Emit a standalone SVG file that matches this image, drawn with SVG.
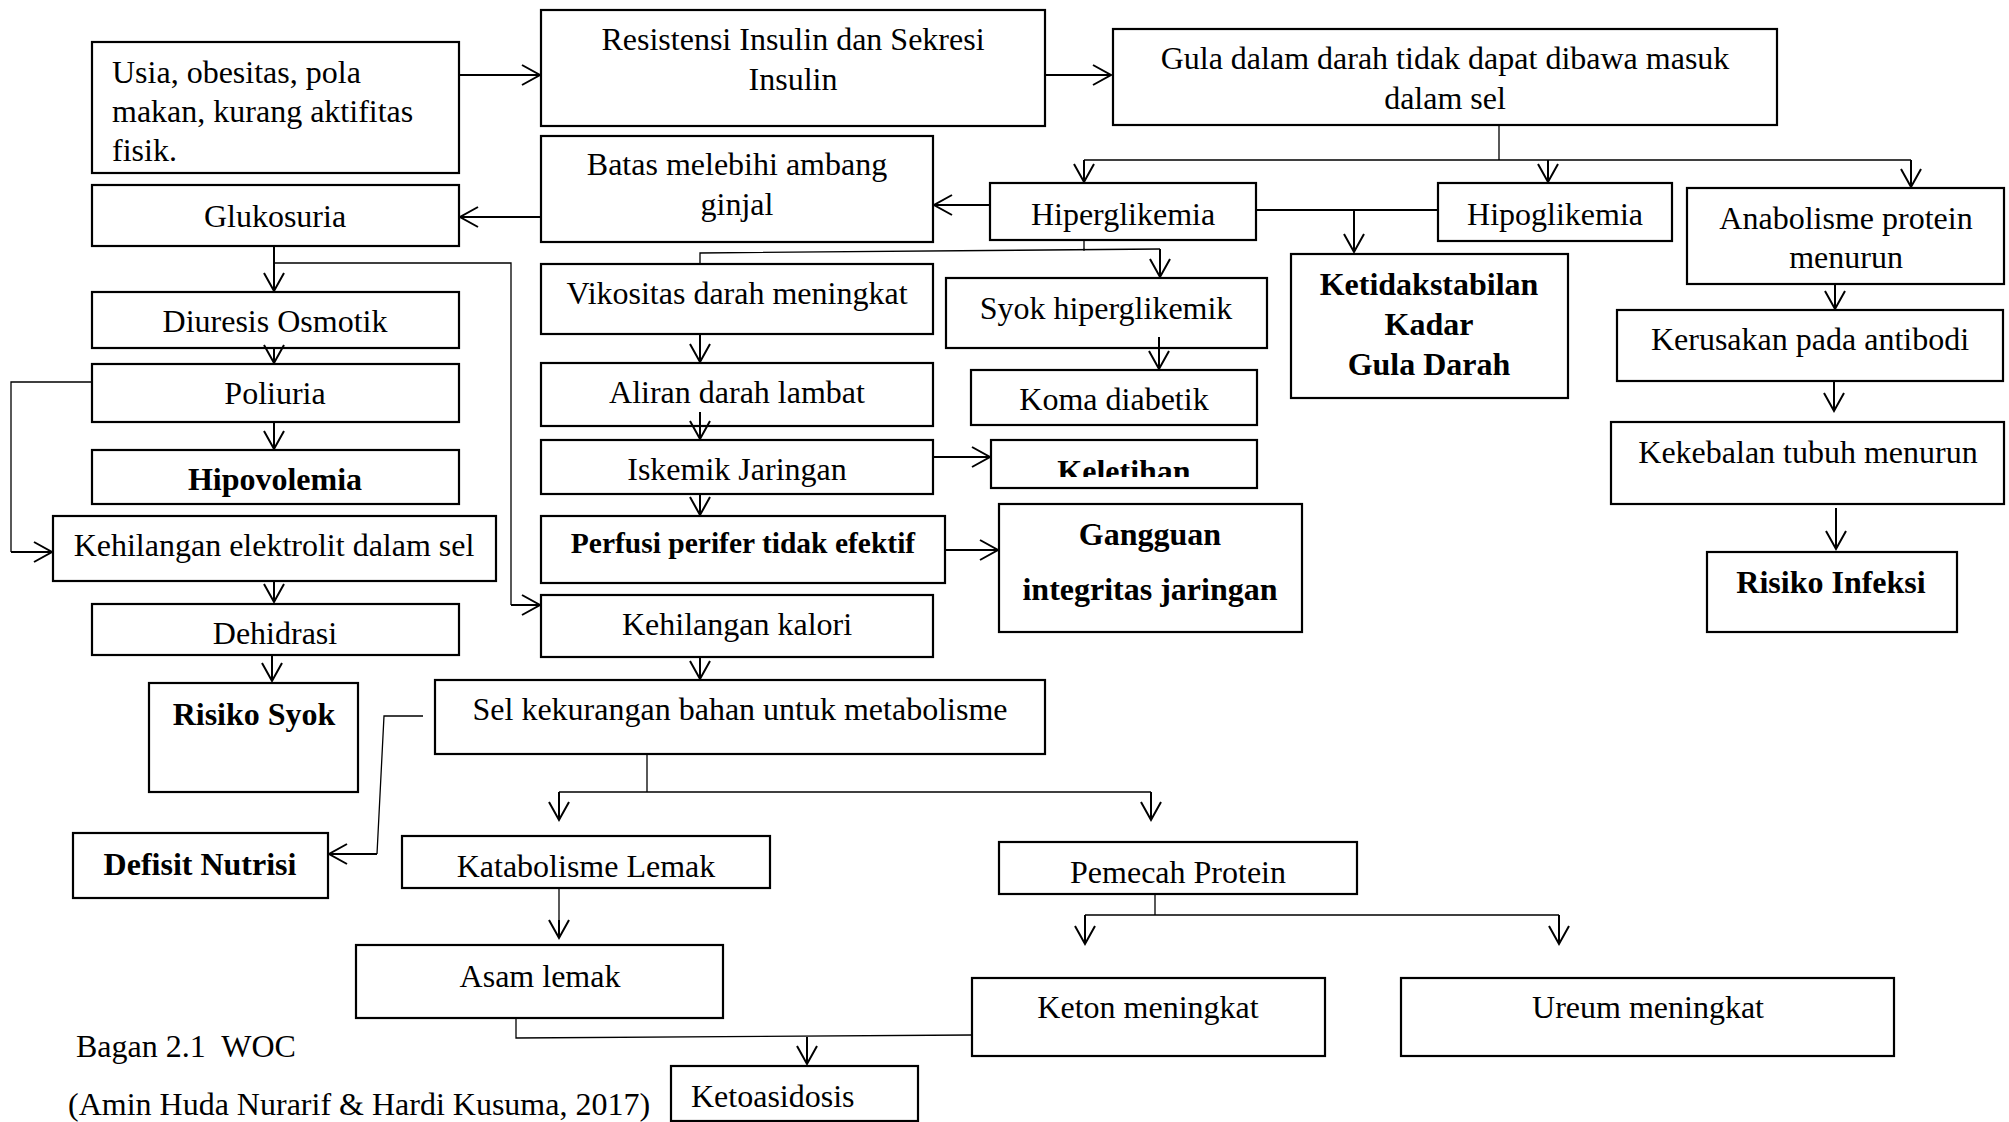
<svg xmlns="http://www.w3.org/2000/svg" width="2009" height="1122" viewBox="0 0 2009 1122">
<style>
.b{fill:#fff;stroke:#000;stroke-width:2.2}
.t{font-family:"Liberation Serif","Times New Roman",serif;font-size:32px;fill:#000;text-anchor:middle}
.l{text-anchor:start}
.bd{font-weight:bold}
.c{fill:none;stroke:#000;stroke-width:2}
.th{fill:none;stroke:#000;stroke-width:1.3}
</style>
<defs>
<marker id="ah" markerUnits="userSpaceOnUse" viewBox="-22 -12 24 24" refX="0" refY="0" markerWidth="24" markerHeight="24" orient="auto" overflow="visible">
<path d="M-18,-10 L0,0 L-18,10" fill="none" stroke="#000" stroke-width="2"/>
</marker>
<clipPath id="clipKel"><rect x="991" y="440" width="266" height="37"/></clipPath>
</defs>
<rect width="2009" height="1122" fill="#fff"/>

<g id="usia"><rect class="b" x="92" y="42" width="367" height="131"/>
<text class="t l" x="112" y="83">Usia, obesitas, pola</text>
<text class="t l" x="112" y="122">makan, kurang aktifitas</text>
<text class="t l" x="112" y="161">fisik.</text></g>
<g id="resistensi"><rect class="b" x="541" y="10" width="504" height="116"/>
<text class="t" x="793" y="50">Resistensi Insulin dan Sekresi</text>
<text class="t" x="793" y="90">Insulin</text></g>
<g id="gula"><rect class="b" x="1113" y="29" width="664" height="96"/>
<text class="t" x="1445" y="69">Gula dalam darah tidak dapat dibawa masuk</text>
<text class="t" x="1445" y="109">dalam sel</text></g>
<g id="batas"><rect class="b" x="541" y="136" width="392" height="106"/>
<text class="t" x="737" y="175">Batas melebihi ambang</text>
<text class="t" x="737" y="215">ginjal</text></g>
<g id="glukosuria"><rect class="b" x="92" y="185" width="367" height="61"/>
<text class="t" x="275" y="227">Glukosuria</text></g>
<g id="hiperglikemia"><rect class="b" x="990" y="183" width="266" height="57"/>
<text class="t" x="1123" y="225">Hiperglikemia</text></g>
<g id="hipoglikemia"><rect class="b" x="1438" y="183" width="234" height="58"/>
<text class="t" x="1555" y="225">Hipoglikemia</text></g>
<g id="ketidakstabilan"><rect class="b" x="1291" y="254" width="277" height="144"/>
<text class="t bd" x="1429" y="295">Ketidakstabilan</text>
<text class="t bd" x="1429" y="335">Kadar</text>
<text class="t bd" x="1429" y="375">Gula Darah</text></g>
<g id="anabolisme"><rect class="b" x="1687" y="188" width="317" height="96"/>
<text class="t" x="1846" y="229">Anabolisme protein</text>
<text class="t" x="1846" y="268">menurun</text></g>
<g id="kerusakan"><rect class="b" x="1617" y="310" width="386" height="71"/>
<text class="t" x="1810" y="350">Kerusakan pada antibodi</text></g>
<g id="kekebalan"><rect class="b" x="1611" y="422" width="393" height="82"/>
<text class="t" x="1808" y="463">Kekebalan tubuh menurun</text></g>
<g id="risikoInfeksi"><rect class="b" x="1707" y="552" width="250" height="80"/>
<text class="t bd" x="1831" y="593">Risiko Infeksi</text></g>
<g id="diuresis"><rect class="b" x="92" y="292" width="367" height="56"/>
<text class="t" x="275" y="332">Diuresis Osmotik</text></g>
<g id="poliuria"><rect class="b" x="92" y="364" width="367" height="58"/>
<text class="t" x="275" y="404">Poliuria</text></g>
<g id="hipovolemia"><rect class="b" x="92" y="450" width="367" height="54"/>
<text class="t bd" x="275" y="490">Hipovolemia</text></g>
<g id="elektrolit"><rect class="b" x="53" y="516" width="443" height="65"/>
<text class="t" x="274" y="556">Kehilangan elektrolit dalam sel</text></g>
<g id="dehidrasi"><rect class="b" x="92" y="604" width="367" height="51"/>
<text class="t" x="275" y="644">Dehidrasi</text></g>
<g id="vikositas"><rect class="b" x="541" y="264" width="392" height="70"/>
<text class="t" x="737" y="304">Vikositas darah meningkat</text></g>
<g id="syok"><rect class="b" x="946" y="278" width="321" height="70"/>
<text class="t" x="1106" y="319">Syok hiperglikemik</text></g>
<g id="aliran"><rect class="b" x="541" y="363" width="392" height="63"/>
<text class="t" x="737" y="403">Aliran darah lambat</text></g>
<g id="koma"><rect class="b" x="971" y="370" width="286" height="55"/>
<text class="t" x="1114" y="410">Koma diabetik</text></g>
<g id="iskemik"><rect class="b" x="541" y="440" width="392" height="54"/>
<text class="t" x="737" y="480">Iskemik Jaringan</text></g>
<g id="keletihan"><rect class="b" x="991" y="440" width="266" height="48"/>
<text class="t bd" x="1124" y="482" clip-path="url(#clipKel)">Keletihan</text></g>
<g id="perfusi"><rect class="b" x="541" y="516" width="404" height="67"/>
<text class="t bd" x="743" y="553" style="font-size:29.5px">Perfusi perifer tidak efektif</text></g>
<g id="gangguan"><rect class="b" x="999" y="504" width="303" height="128"/>
<text class="t bd" x="1150" y="545">Gangguan</text>
<text class="t bd" x="1150" y="600">integritas jaringan</text></g>
<g id="kalori"><rect class="b" x="541" y="595" width="392" height="62"/>
<text class="t" x="737" y="635">Kehilangan kalori</text></g>
<g id="risikoSyok"><rect class="b" x="149" y="683" width="209" height="109"/>
<text class="t bd" x="254" y="725">Risiko Syok</text></g>
<g id="sel"><rect class="b" x="435" y="680" width="610" height="74"/>
<text class="t" x="740" y="720">Sel kekurangan bahan untuk metabolisme</text></g>
<g id="defisit"><rect class="b" x="73" y="833" width="255" height="65"/>
<text class="t bd" x="200" y="875">Defisit Nutrisi</text></g>
<g id="katabolisme"><rect class="b" x="402" y="836" width="368" height="52"/>
<text class="t" x="586" y="877">Katabolisme Lemak</text></g>
<g id="pemecah"><rect class="b" x="999" y="842" width="358" height="52"/>
<text class="t" x="1178" y="883">Pemecah Protein</text></g>
<g id="asam"><rect class="b" x="356" y="945" width="367" height="73"/>
<text class="t" x="540" y="987">Asam lemak</text></g>
<g id="keton"><rect class="b" x="972" y="978" width="353" height="78"/>
<text class="t" x="1148" y="1018">Keton meningkat</text></g>
<g id="ureum"><rect class="b" x="1401" y="978" width="493" height="78"/>
<text class="t" x="1648" y="1018">Ureum meningkat</text></g>
<g id="ketoasidosis"><rect class="b" x="671" y="1066" width="247" height="55"/>
<text class="t l" x="691" y="1107">Ketoasidosis</text></g>

<g id="caption">
<text class="t l" x="76" y="1057" xml:space="preserve">Bagan 2.1  WOC</text>
<text class="t l" x="68" y="1115">(Amin Huda Nurarif &amp; Hardi Kusuma, 2017)</text>
</g>

<g id="connectors">
<path class="c" d="M459,75 H540" marker-end="url(#ah)"/>
<path class="c" d="M1045,75 H1111" marker-end="url(#ah)"/>
<path class="th" d="M1499,125 V160 M1084,160 H1911"/>
<path class="c" d="M1084,160 V182" marker-end="url(#ah)"/>
<path class="c" d="M1548,160 V182" marker-end="url(#ah)"/>
<path class="c" d="M1911,160 V187" marker-end="url(#ah)"/>
<path class="c" d="M990,205 H934" marker-end="url(#ah)"/>
<path class="c" d="M1256,210 H1438"/>
<path class="c" d="M1354,210 V252" marker-end="url(#ah)"/>
<path class="c" d="M541,217 H460" marker-end="url(#ah)"/>
<path class="c" d="M274,246 V291" marker-end="url(#ah)"/>
<path class="th" d="M274,263 H511 V605"/>
<path class="c" d="M511,605 H540" marker-end="url(#ah)"/>
<path class="c" d="M274,348 V363" marker-end="url(#ah)"/>
<path class="c" d="M274,422 V449" marker-end="url(#ah)"/>
<path class="th" d="M92,382 H11 V552"/>
<path class="c" d="M11,552 H52" marker-end="url(#ah)"/>
<path class="c" d="M274,581 V602" marker-end="url(#ah)"/>
<path class="c" d="M272,655 V681" marker-end="url(#ah)"/>
<path class="th" d="M1084,240 V251 M700,264 V253 L1160,249"/>
<path class="c" d="M1160,249 V277" marker-end="url(#ah)"/>
<path class="c" d="M1159,337 V369" marker-end="url(#ah)"/>
<path class="c" d="M700,334 V362" marker-end="url(#ah)"/>
<path class="c" d="M700,412 V439" marker-end="url(#ah)"/>
<path class="c" d="M700,494 V515" marker-end="url(#ah)"/>
<path class="c" d="M933,457 H990" marker-end="url(#ah)"/>
<path class="c" d="M945,550 H998" marker-end="url(#ah)"/>
<path class="c" d="M700,657 V679" marker-end="url(#ah)"/>
<path class="th" d="M423,716 H384 L377,854"/>
<path class="c" d="M377,854 H329" marker-end="url(#ah)"/>
<path class="th" d="M647,754 V792 M559,792 H1151"/>
<path class="c" d="M559,792 V820" marker-end="url(#ah)"/>
<path class="c" d="M1151,792 V820" marker-end="url(#ah)"/>
<path class="th" d="M559,888 V938"/>
<path class="c" d="M559,920 V938" marker-end="url(#ah)"/>
<path class="th" d="M516,1018 V1038 L972,1035"/>
<path class="c" d="M807,1037 V1064" marker-end="url(#ah)"/>
<path class="c" d="M1835,284 V309" marker-end="url(#ah)"/>
<path class="c" d="M1834,381 V411" marker-end="url(#ah)"/>
<path class="c" d="M1836,508 V549" marker-end="url(#ah)"/>
<path class="th" d="M1155,894 V915 M1085,915 H1559"/>
<path class="c" d="M1085,915 V944" marker-end="url(#ah)"/>
<path class="c" d="M1559,915 V944" marker-end="url(#ah)"/>
</g>
</svg>
